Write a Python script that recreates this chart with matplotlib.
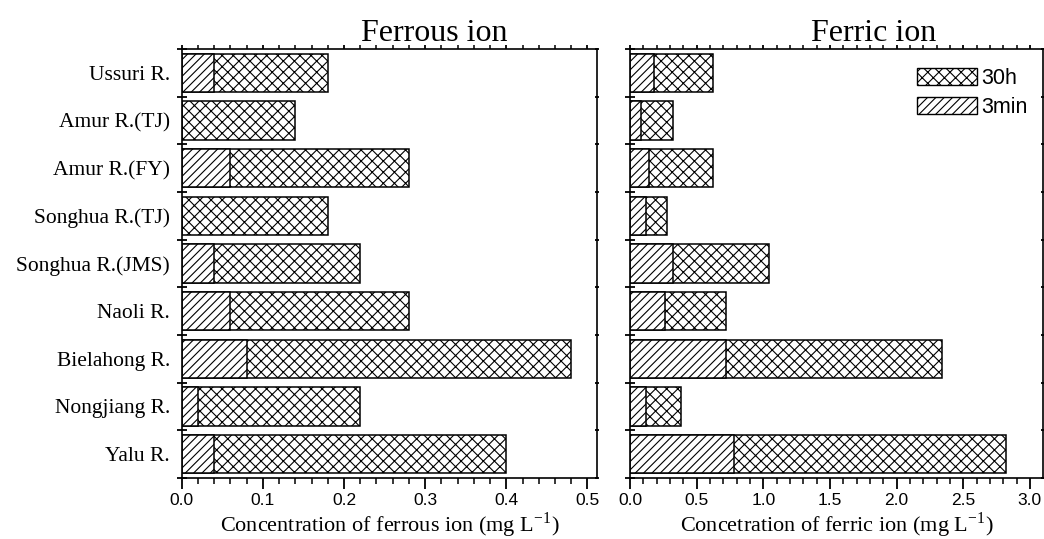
import numpy as np
import matplotlib
matplotlib.use("Agg")
import matplotlib.pyplot as plt
from matplotlib.ticker import MultipleLocator, FixedLocator
from matplotlib.patches import Patch

plt.rcParams['font.family'] = ['Liberation Sans', 'DejaVu Sans']
plt.rcParams['mathtext.fontset'] = 'stix'
plt.rcParams['hatch.linewidth'] = 0.8

# rivers, top to bottom as in the figure
rivers = ["Ussuri R.", "Amur R.(TJ)", "Amur R.(FY)", "Songhua R.(TJ)",
          "Songhua R.(JMS)", "Naoli R.", "Bielahong R.", "Nongjiang R.", "Yalu R."]

# ferrous ion, mg/L
ferrous_30h = [0.18, 0.14, 0.28, 0.18, 0.22, 0.28, 0.48, 0.22, 0.40]
ferrous_3min = [0.04, 0.0, 0.06, 0.0, 0.04, 0.06, 0.08, 0.02, 0.04]

# ferric ion, mg/L
ferric_30h = [0.62, 0.32, 0.62, 0.28, 1.04, 0.72, 2.34, 0.38, 2.82]
ferric_3min = [0.18, 0.08, 0.14, 0.12, 0.32, 0.26, 0.72, 0.12, 0.78]

serif = ['Liberation Serif', 'DejaVu Serif']

fig = plt.figure(figsize=(10.44, 5.39), dpi=100)
ax1 = fig.add_axes([0.174, 0.1132, 0.398, 0.796])
ax2 = fig.add_axes([0.6034, 0.1132, 0.3956, 0.796])

ypos = np.arange(len(rivers))[::-1]


def draw_panel(ax, v30, v3, xmax, major, minor):
    ax.barh(ypos, v30, height=0.8, color='white', edgecolor='black',
            linewidth=1.1, hatch='xxx', label='30h')
    for y, v in zip(ypos, v3):
        if v > 0:
            ax.barh(y, v, height=0.8, color='white', edgecolor='black',
                    linewidth=1.1, hatch='////')
    ax.set_xlim(0, xmax)
    ax.set_ylim(-0.5, len(rivers) - 0.5)
    ax.xaxis.set_major_locator(MultipleLocator(major))
    ax.xaxis.set_minor_locator(MultipleLocator(minor))
    ax.yaxis.set_major_locator(FixedLocator(ypos))
    ax.yaxis.set_minor_locator(FixedLocator(np.arange(-0.5, len(rivers), 1.0)))
    ax.tick_params(axis='x', which='major', direction='out', length=8,
                   width=1.3, labelsize=12.5, pad=2.5)
    ax.tick_params(axis='x', which='minor', direction='out', length=4.5, width=1.1)
    ax.tick_params(axis='x', which='both', top=True)
    ax.tick_params(axis='y', which='major', length=0, pad=8.5)
    ax.tick_params(axis='y', which='minor', direction='inout', length=7,
                   width=1.3, right=True)
    for s in ax.spines.values():
        s.set_linewidth(1.2)
    # small inward ticks on top and right spines
    for t in ax.xaxis.get_major_ticks() + ax.xaxis.get_minor_ticks():
        t.tick2line.set_markersize(3)
    for t in ax.yaxis.get_minor_ticks():
        t.tick2line.set_markersize(3)


draw_panel(ax1, ferrous_30h, ferrous_3min, 0.512, 0.1, 0.02)
draw_panel(ax2, ferric_30h, ferric_3min, 3.098, 0.5, 0.1)

ax1.set_yticks(ypos)
ax1.set_yticklabels(rivers, fontsize=15.5, family=serif)
ax2.set_yticklabels([])

ax1.set_xlabel(r'Concentration of ferrous ion (mg L$^{\mathregular{-1}}$)',
               fontsize=16, family=serif, labelpad=2)
ax2.set_xlabel(r'Concetration of ferric ion (mg L$^{\mathregular{-1}}$)',
               fontsize=16, family=serif, labelpad=2)

fig.text(0.416, 0.924, 'Ferrous ion', fontsize=23, family=serif,
         ha='center', va='baseline')
fig.text(0.837, 0.924, 'Ferric ion', fontsize=23, family=serif,
         ha='center', va='baseline')

# legend: 30h first, 3min second
handles = [Patch(facecolor='white', edgecolor='black', hatch='xxx', linewidth=1.0),
           Patch(facecolor='white', edgecolor='black', hatch='////', linewidth=1.0)]
ax2.legend(handles, ['30h', '3min'], loc='upper left', bbox_to_anchor=(0.695, 0.955),
           frameon=False, fontsize=15.5, handlelength=2.8, handleheight=0.85,
           handletextpad=0.2, labelspacing=0.35, borderpad=0, borderaxespad=0)

fig.savefig('out.png', dpi=100)
